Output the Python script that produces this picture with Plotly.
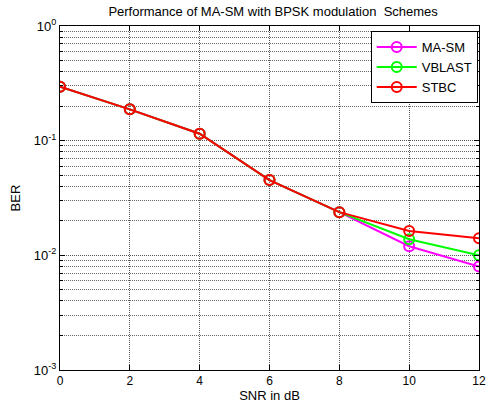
import plotly.graph_objects as go

snr = [0, 2, 4, 6, 8, 10, 12]
ber_masm = [0.295, 0.1875, 0.115, 0.0453, 0.0238, 0.0120, 0.0080]
ber_vblast = [0.295, 0.1875, 0.115, 0.0453, 0.0238, 0.0138, 0.0100]
ber_stbc = [0.295, 0.1875, 0.115, 0.0453, 0.0238, 0.0163, 0.0141]

series = [("MA-SM", ber_masm, "#ff00ff"),
          ("VBLAST", ber_vblast, "#00ff00"),
          ("STBC", ber_stbc, "#ff0000")]

x_ticks = [0, 2, 4, 6, 8, 10, 12]
y_ticks = [1e-3, 1e-2, 1e-1, 1e0]
y_ticktext = ["10<sup>-3</sup>", "10<sup>-2</sup>", "10<sup>-1</sup>", "10<sup>0</sup>"]
y_minor = [m * 10 ** e for e in (-3, -2, -1) for m in range(2, 10)]

fig = go.Figure()
for name, vals, col in series:
    fig.add_trace(go.Scatter(
        x=snr, y=vals, name=name, mode="lines+markers",
        line=dict(color=col, width=2),
        marker=dict(symbol="circle-open", size=10, color=col, line=dict(width=2, color=col)),
    ))

font = "Liberation Sans, Arial, sans-serif"
fig.update_layout(
    width=493, height=410,
    margin=dict(l=60, r=7, t=26, b=40),
    paper_bgcolor="white", plot_bgcolor="white",
    font=dict(family=font, size=12, color="black"),
    title=dict(text="Performance of MA-SM with BPSK modulation  Schemes",
               x=0.554, xanchor="center", y=0.972, yanchor="middle",
               font=dict(size=13)),
    legend=dict(x=0.997, xanchor="right", y=0.985, yanchor="top",
                bgcolor="white", bordercolor="black", borderwidth=1,
                font=dict(size=13), tracegroupgap=0, itemwidth=40),
    showlegend=True,
)
fig.update_xaxes(
    range=[0, 12], tickvals=x_ticks, ticks="inside", ticklen=5, tickcolor="black",
    showline=True, linecolor="black", linewidth=1, mirror="ticks",
    showgrid=True, gridcolor="#555", griddash="1px,1px", gridwidth=1, zeroline=False,
    tickfont=dict(size=12),
    title=dict(text="SNR in dB", standoff=2, font=dict(size=13)),
)
fig.update_yaxes(
    type="log", range=[-3, 0], tickvals=y_ticks, ticktext=y_ticktext,
    ticks="inside", ticklen=5, tickcolor="black",
    showline=True, linecolor="black", linewidth=1, mirror="ticks",
    showgrid=True, gridcolor="#555", griddash="1px,1px", gridwidth=1, zeroline=False,
    tickfont=dict(size=13),
    minor=dict(tickvals=y_minor, ticks="inside", ticklen=3, tickcolor="black",
               showgrid=True, gridcolor="#666", griddash="1px,1px", gridwidth=1),
    title=dict(text="BER", standoff=10, font=dict(size=13)),
)

fig.write_html("out.html")
